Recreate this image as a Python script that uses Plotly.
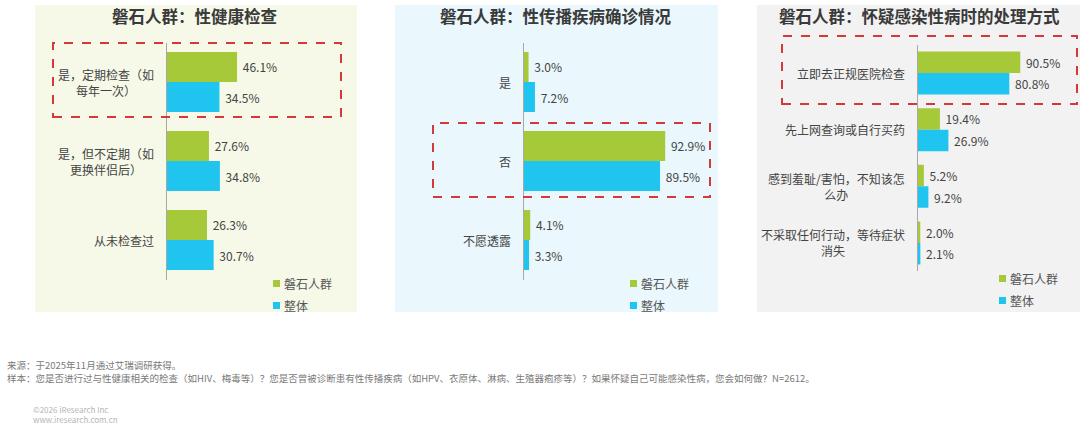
import plotly.graph_objects as go

W, H = 1080, 429

# ---------------- data ----------------
titles = ["磐石人群：性健康检查", "磐石人群：性传播疾病确诊情况", "磐石人群：怀疑感染性病时的处理方式"]

cats1 = ["是，定期检查（如<br>每年一次）", "是，但不定期（如<br>更换伴侣后）", "从未检查过"]
grp1 = [46.1, 27.6, 26.3]
all1 = [34.5, 34.8, 30.7]

cats2 = ["是", "否", "不愿透露"]
grp2 = [3.0, 92.9, 4.1]
all2 = [7.2, 89.5, 3.3]

cats3 = ["立即去正规医院检查", "先上网查询或自行买药", "感到羞耻/害怕，不知该怎<br>么办", "不采取任何行动，等待症状<br>消失"]
grp3 = [90.5, 19.4, 5.2, 2.0]
all3 = [80.8, 26.9, 9.2, 2.1]

series_names = ["磐石人群", "整体"]

source_text = "来源：于2025年11月通过艾瑞调研获得。"
sample_text = "样本：您是否进行过与性健康相关的检查（如HIV、梅毒等）？您是否曾被诊断患有性传播疾病（如HPV、衣原体、淋病、生殖器疱疹等）？如果怀疑自己可能感染性病，您会如何做？N=2612。"
copy_text = "©2026 iResearch Inc<br>www.iresearch.com.cn"

# ---------------- style ----------------
GREEN = "#a6c93a"
BLUE = "#20c5ef"
FONT = "Noto Sans CJK SC"

def px_x(v):
    return v / W

def px_y(v):
    return 1 - v / H

panels = [
    dict(cats=cats1, g=grp1, a=all1, x0=167, x1=167 + 152, top=42.5, bot=279.5, rng=100,
         bg="#f6f9e8", bgx=(35, 357), title_x=195, gap=0.24,
         box=(53, 43, 341, 117), leg_x=276, leg_y=(283, 305)),
    dict(cats=cats2, g=grp2, a=all2, x0=524, x1=524 + 152, top=42.5, bot=279.5, rng=100,
         bg="#eaf7fc", bgx=(395, 718), title_x=556, gap=0.24,
         box=(433, 123, 710, 197), leg_x=633, leg_y=(283, 305)),
    dict(cats=cats3, g=grp3, a=all3, x0=918, x1=918 + 113, top=44.7, bot=271.3, rng=100,
         bg="#f2f2f2", bgx=(757, 1080), title_x=919, gap=0.26,
         box=(782, 36, 1077, 104), leg_x=1002, leg_y=(278, 300)),
]

fig = go.Figure()
shapes = []
annotations = []

for i, p in enumerate(panels):
    n = "" if i == 0 else str(i + 1)
    xa, ya = "x" + n, "y" + n
    for name, vals, col in [(series_names[0], p["g"], GREEN), (series_names[1], p["a"], BLUE)]:
        fig.add_trace(go.Bar(
            x=vals, y=p["cats"], orientation="h", name=name,
            marker=dict(color=col, line=dict(width=0)),
            xaxis=xa, yaxis=ya, showlegend=False,
            texttemplate="\u00a0%{x:.1f}%", textposition="outside",
            textfont=dict(family=FONT, size=12, color="#444"),
            cliponaxis=False, constraintext="none", hoverinfo="skip",
        ))
    fig.update_layout(**{
        "xaxis" + n: dict(domain=[px_x(p["x0"]), px_x(p["x1"])], range=[0, p["rng"]],
                          visible=False, fixedrange=True),
        "yaxis" + n: dict(domain=[px_y(p["bot"]), px_y(p["top"])], anchor=xa,
                          autorange="reversed", showticklabels=False, ticks="",
                          showline=True, linecolor="#a8a8a8", linewidth=1,
                          showgrid=False, zeroline=False, fixedrange=True),
    })
    # category labels
    for c in p["cats"]:
        annotations.append(dict(x=0, y=c, xref=xa, yref=ya, text=c, showarrow=False,
                                xanchor="right", xshift=-11, align="center",
                                font=dict(family=FONT, size=12, color="#444")))
    # background
    shapes.append(dict(type="rect", xref="paper", yref="paper", layer="below",
                       x0=px_x(p["bgx"][0]), x1=px_x(p["bgx"][1]), y0=px_y(312), y1=px_y(5),
                       fillcolor=p["bg"], line=dict(width=0)))
    # red dashed box
    bx0, by0, bx1, by1 = p["box"]
    shapes.append(dict(type="rect", xref="paper", yref="paper", layer="above",
                       x0=px_x(bx0), x1=px_x(bx1), y0=px_y(by1), y1=px_y(by0),
                       line=dict(color="#d23a3a", width=2, dash="dash")))
    # title
    annotations.append(dict(x=px_x(p["title_x"]), y=px_y(16), xref="paper", yref="paper",
                            text="<b>" + titles[i] + "</b>", showarrow=False,
                            xanchor="center", yanchor="middle",
                            font=dict(family=FONT, size=16.5, color="#3a3a3a")))
    # legend
    for k, (name, col) in enumerate(zip(series_names, [GREEN, BLUE])):
        ly = p["leg_y"][k]
        shapes.append(dict(type="rect", xref="paper", yref="paper",
                           x0=px_x(p["leg_x"] - 3), x1=px_x(p["leg_x"] + 4),
                           y0=px_y(ly + 4), y1=px_y(ly - 3),
                           fillcolor=col, line=dict(width=0)))
        annotations.append(dict(x=px_x(p["leg_x"] + 6), y=px_y(ly), xref="paper", yref="paper",
                                text=name, showarrow=False, xanchor="left", yanchor="middle",
                                font=dict(family=FONT, size=12, color="#555")))

# footer
annotations.append(dict(x=px_x(5), y=px_y(365), xref="paper", yref="paper", text=source_text,
                        showarrow=False, xanchor="left", yanchor="middle",
                        font=dict(family=FONT, size=9.5, color="#7a7a7a")))
annotations.append(dict(x=px_x(5), y=px_y(378), xref="paper", yref="paper", text=sample_text,
                        showarrow=False, xanchor="left", yanchor="middle",
                        font=dict(family=FONT, size=9.5, color="#7a7a7a")))
annotations.append(dict(x=px_x(31), y=px_y(414), xref="paper", yref="paper", text=copy_text,
                        showarrow=False, xanchor="left", yanchor="middle", align="left",
                        font=dict(family=FONT, size=8, color="#b5b5b5")))

fig.update_layout(
    width=W, height=H, margin=dict(l=0, r=0, t=0, b=0),
    paper_bgcolor="white", plot_bgcolor="rgba(0,0,0,0)",
    barmode="group", bargap=0.24, bargroupgap=0,
    shapes=shapes, annotations=annotations, showlegend=False,
)

fig.write_html("out.html", config={"displayModeBar": False})
